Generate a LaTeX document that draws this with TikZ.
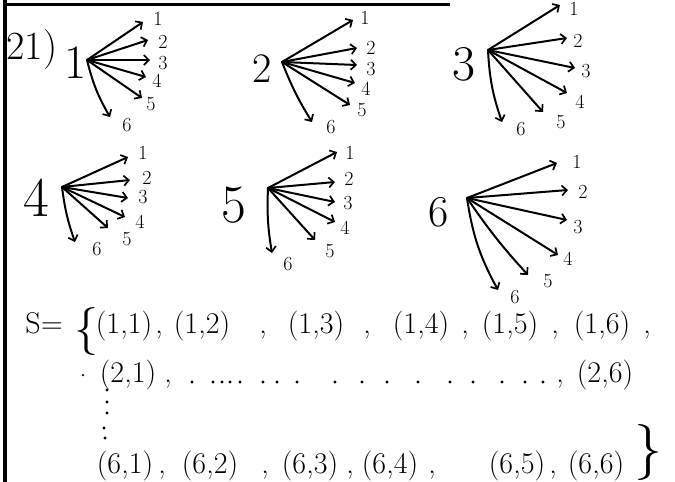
\documentclass[tikz,border=0pt]{standalone}
\usepackage{fontspec}
\usetikzlibrary{arrows.meta}
\begin{document}
\begin{tikzpicture}[x=1pt,y=-1pt,
  arr/.style={line width=2pt,line cap=round,-{Straight Barb[length=5pt,width=10pt,line width=1.7pt]}},
  lab/.style={font=\fontsize{20}{20}\selectfont,inner sep=0pt},
  tup/.style={font=\fontsize{30}{30}\selectfont,anchor=base,inner sep=0pt},
  pt/.style={circle,fill,inner sep=0pt,minimum size=3.4pt}]
\useasboundingbox (0,0) rectangle (675,482);
% page edges of the scan
\coordinate (topL) at (5,4); \coordinate (topR) at (450,4);
\draw[line width=3pt] (topL) -- (topR);
\coordinate (barT) at (5,0); \coordinate (barB) at (5,482);
\draw[line width=4pt] (barT) -- (barB);

\node[font=\fontsize{40}{40}\selectfont,inner sep=0pt] (num) at (32,50) {21)};

% tree 1
\coordinate (r1) at (87,60);
\node[font=\fontsize{48}{48}\selectfont,inner sep=0pt] (n1) at (76,63) {1};
\foreach \i/\ex/\ey/\lx/\ly/\b in {1/143/22/158/19/0,2/148/40/163/42/0,3/150/60/163/63/0,4/146/77/157/81/0,5/142/98/151/104/0,6/110/117/127/125/8}{
  \coordinate (e1-\i) at (\ex,\ey);
  \node[lab] (l1-\i) at (\lx,\ly) {\i};
  \draw[arr] (r1) to[bend right=\b] (e1-\i);
}
% tree 2
\coordinate (r2) at (282,62);
\node[font=\fontsize{42}{42}\selectfont,inner sep=0pt] (n2) at (262,69) {2};
\foreach \i/\ex/\ey/\lx/\ly/\b in {1/353/20/365/18/0,2/357/48/371/48/0,3/357/65/371/69/0,4/355/83/366/89/0,5/350/105/362/110/0,6/312/122/331/127/5}{
  \coordinate (e2-\i) at (\ex,\ey);
  \node[lab] (l2-\i) at (\lx,\ly) {\i};
  \draw[arr] (r2) to[bend right=\b] (e2-\i);
}
% tree 3
\coordinate (r3) at (488,50);
\node[font=\fontsize{50}{50}\selectfont,inner sep=0pt] (n3) at (464,64) {3};
\foreach \i/\ex/\ey/\lx/\ly/\b in {1/560/5/574/9/0,2/567/38/578/41/0,3/575/68/586/71/0,4/567/93/580/102/0,5/543/112/561/122/0,6/502/122/521/129/8}{
  \coordinate (e3-\i) at (\ex,\ey);
  \node[lab] (l3-\i) at (\lx,\ly) {\i};
  \draw[arr] (r3) to[bend right=\b] (e3-\i);
}
% tree 4
\coordinate (r4) at (62,187);
\node[font=\fontsize{56}{56}\selectfont,inner sep=0pt] (n4) at (36,198) {4};
\foreach \i/\ex/\ey/\lx/\ly/\b in {1/128/157/143/153/0,2/130/180/147/178/0,3/128/198/143/197/0,4/125/217/140/222/0,5/108/228/127/239/0,6/75/242/97/249/6}{
  \coordinate (e4-\i) at (\ex,\ey);
  \node[lab] (l4-\i) at (\lx,\ly) {\i};
  \draw[arr] (r4) to[bend right=\b] (e4-\i);
}
% tree 5
\coordinate (r5) at (268,188);
\node[font=\fontsize{54}{54}\selectfont,inner sep=0pt] (n5) at (234,205) {5};
\foreach \i/\ex/\ey/\lx/\ly/\b in {1/337/152/350/153/0,2/335/182/349/179/0,3/335/202/348/203/0,4/335/222/345/228/0,5/315/240/330/251/0,6/272/253/288/264/6}{
  \coordinate (e5-\i) at (\ex,\ey);
  \node[lab] (l5-\i) at (\lx,\ly) {\i};
  \draw[arr] (r5) to[bend right=\b] (e5-\i);
}
% tree 6
\coordinate (r6) at (467,198);
\node[font=\fontsize{44}{44}\selectfont,inner sep=0pt] (n6) at (439,212) {6};
\foreach \i/\ex/\ey/\lx/\ly/\b in {1/557/163/577/162/0,2/568/190/583/192/0,3/567/220/578/227/0,4/558/255/568/259/0,5/528/275/548/281/4,6/498/290/515/297/10}{
  \coordinate (e6-\i) at (\ex,\ey);
  \node[lab] (l6-\i) at (\lx,\ly) {\i};
  \draw[arr] (r6) to[bend right=\b] (e6-\i);
}

% set S, row 1
\node[tup,font=\fontsize{30}{30}\selectfont] (S) at (33,333) {S};
\node[tup] (eq) at (52,333) {=};
\node[inner sep=0pt,font=\fontsize{48}{48}\selectfont] (ob) at (86,331) {\{};
\node[tup] (a11) at (124,333) {(1,1)};
\node[tup] (c1) at (159,333) {,};
\node[tup] (a12) at (202,333) {(1,2)};
\node[tup] (c2) at (263,333) {,};
\node[tup] (a13) at (316,333) {(1,3)};
\node[tup] (c3) at (367,333) {,};
\node[tup] (a14) at (421,333) {(1,4)};
\node[tup] (c4) at (465,333) {,};
\node[tup] (a15) at (510,333) {(1,5)};
\node[tup] (c5) at (555,333) {,};
\node[tup] (a16) at (602,333) {(1,6)};
\node[tup] (c6) at (647,333) {,};

% row 2
\node[pt,minimum size=2.5pt] (d0) at (83,375) {};
\node[tup] (a21) at (128,382) {(2,1)};
\node[tup] (c21) at (168,382) {,};
\foreach \x [count=\k] in {192,213,222,230,240,263,277,297,335,362,387,418,450,473,502,525,543}{
  \node[pt] (h\k) at (\x,382) {};
}
\node[tup] (c22) at (560,382) {,};
\node[tup] (a26) at (605,382) {(2,6)};

% vertical dots
\foreach \x/\y [count=\k] in {107/390,107/402,107/413,104/428,105/438}{
  \node[pt] (v\k) at (\x,\y) {};
}

% row 3
\node[tup] (a61) at (125,473) {(6,1)};
\node[tup] (c31) at (162,473) {,};
\node[tup] (a62) at (210,473) {(6,2)};
\node[tup] (c32) at (265,473) {,};
\node[tup] (a63) at (310,473) {(6,3)};
\node[tup] (c33) at (350,473) {,};
\node[tup] (a64) at (390,473) {(6,4)};
\node[tup] (c34) at (432,473) {,};
\node[tup] (a65) at (517,473) {(6,5)};
\node[tup] (c35) at (553,473) {,};
\node[tup] (a66) at (596,473) {(6,6)};
\node[inner sep=0pt,font=\fontsize{56}{56}\selectfont] (cb) at (648,452) {\}};
\end{tikzpicture}
\end{document}
